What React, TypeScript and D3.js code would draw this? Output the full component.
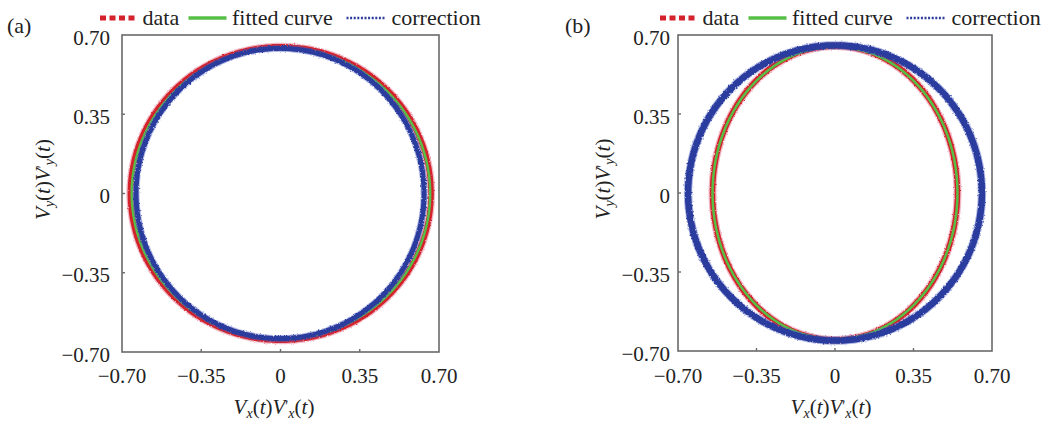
import React from 'react';
import * as d3 from 'd3';

// ---------- data ----------
const panelLabels = ['(a)', '(b)'];
const axisDomain = [-0.7, 0.7];
const tickValues = [-0.7, -0.35, 0, 0.35, 0.7];
const tickLabels = ['\u22120.70', '\u22120.35', '0', '0.35', '0.70'];
const legendLabels = ['data', 'fitted curve', 'correction'];
// ellipse parameters per panel: [cx, cy, rx, ry]
const dataEllipse = [
  [0.001, 0.0, 0.664, 0.648],
  [0.0, 0.0, 0.546, 0.651],
];
const fittedEllipse = [
  [0.002, 0.0, 0.659, 0.642],
  [0.0, 0.0, 0.546, 0.648],
];
const correctionEllipse = [
  [-0.002, 0.0, 0.636, 0.641],
  [0.0, 0.0, 0.655, 0.654],
];

// ---------- layout ----------
const W = 1053;
const H = 424;
const frames = [
  { x0: 122, x1: 439, y0: 35, y1: 352, labelGap: 12, tagX: 7, legendX: 100, yTitleX: 43, xTitleC: 274 },
  { x0: 678, x1: 992, y0: 35, y1: 351, labelGap: 8, tagX: 565, legendX: 660, yTitleX: 603, xTitleC: 831 },
];
const RED = '#d3222c';
const GREEN = '#57bf45';
const BLUE = '#2b3c9e';
const TEXT = '#222';
const FONT = "'Liberation Serif', 'DejaVu Serif', 'Times New Roman', serif";

const angles = d3.range(0, 360, 1).map((d) => (d * Math.PI) / 180);

function ellipsePath(e: number[], xs: any, ys: any) {
  const line = d3
    .line<number>()
    .x((a) => xs(e[0] + e[2] * Math.cos(a)))
    .y((a) => ys(e[1] + e[3] * Math.sin(a)))
    .curve(d3.curveLinearClosed);
  return line(angles) || '';
}

function Title({ sub }: { sub: string }) {
  return (
    <>
      <tspan fontStyle="italic">V</tspan>
      <tspan fontStyle="italic" fontSize={14} dy={4}>{sub}</tspan>
      <tspan dy={-4}>(</tspan>
      <tspan fontStyle="italic">t</tspan>
      <tspan>)</tspan>
      <tspan fontStyle="italic">V</tspan>
      <tspan fontSize={14} dy={-3}>{'\u2032'}</tspan>
      <tspan fontStyle="italic" fontSize={14} dy={7}>{sub}</tspan>
      <tspan dy={-4}>(</tspan>
      <tspan fontStyle="italic">t</tspan>
      <tspan>)</tspan>
    </>
  );
}

function Panel({ i }: { i: number }) {
  const f = frames[i];
  const xs = d3.scaleLinear().domain(axisDomain).range([f.x0, f.x1]);
  const ys = d3.scaleLinear().domain(axisDomain).range([f.y1, f.y0]);
  const dPath = ellipsePath(dataEllipse[i], xs, ys);
  const fPath = ellipsePath(fittedEllipse[i], xs, ys);
  const cPath = ellipsePath(correctionEllipse[i], xs, ys);
  const lx = f.legendX;
  const ly = 18;
  const cy = (f.y0 + f.y1) / 2 - 14;
  return (
    <g>
      {/* curves */}
      <g filter="url(#rough)">
        <path d={dPath} fill="none" stroke="#e0607a" strokeOpacity={0.45} strokeWidth={8} />
        <path d={dPath} fill="none" stroke={RED} strokeWidth={5.5} />
      </g>
      <path d={fPath} fill="none" stroke={GREEN} strokeWidth={2.5} />
      <g filter="url(#rough2)">
        <path d={cPath} fill="none" stroke="#5060c0" strokeOpacity={0.45} strokeWidth={i === 0 ? 7 : 8.5} />
        <path d={cPath} fill="none" stroke={BLUE} strokeWidth={i === 0 ? 5 : 6.5} />
      </g>
      {/* frame */}
      <rect x={f.x0} y={f.y0} width={f.x1 - f.x0} height={f.y1 - f.y0} fill="none" stroke="#6a6a6a" strokeWidth={1.6} />
      {/* ticks */}
      {tickValues.slice(1, -1).map((t) => (
        <line key={'xt' + t} x1={xs(t)} x2={xs(t)} y1={f.y1} y2={f.y1 - 3} stroke="#6a6a6a" strokeWidth={1.4} />
      ))}
      {tickValues.slice(1, -1).map((t) => (
        <line key={'yt' + t} x1={f.x0} x2={f.x0 + 3} y1={ys(t)} y2={ys(t)} stroke="#6a6a6a" strokeWidth={1.4} />
      ))}
      {/* tick labels */}
      {tickValues.map((t, k) => (
        <text key={'xl' + t} x={xs(t)} y={383} textAnchor="middle" fontSize={21} fontFamily={FONT} fill={TEXT}>
          {tickLabels[k]}
        </text>
      ))}
      {tickValues.map((t, k) => (
        <text key={'yl' + t} x={f.x0 - f.labelGap} y={ys(t) + 9.5} textAnchor="end" fontSize={21} fontFamily={FONT} fill={TEXT}>
          {tickLabels[k]}
        </text>
      ))}
      {/* axis titles */}
      <text x={f.xTitleC} y={414} textAnchor="middle" fontSize={21} fontFamily={FONT} fill={TEXT}>
        <Title sub="x" />
      </text>
      <text
        transform={`translate(${f.yTitleX + 7},${cy}) rotate(-90)`}
        textAnchor="middle"
        fontSize={21}
        fontFamily={FONT}
        fill={TEXT}
      >
        <Title sub="y" />
      </text>
      {/* panel tag */}
      <text x={f.tagX} y={33} fontSize={22} fontFamily={FONT} fill={TEXT}>
        {panelLabels[i]}
      </text>
      {/* legend */}
      <line x1={lx} x2={lx + 35} y1={ly} y2={ly} stroke={RED} strokeWidth={5} strokeDasharray="6 3.5" />
      <text x={lx + 42.5} y={25} fontSize={22} fontFamily={FONT} fill={TEXT}>{legendLabels[0]}</text>
      <line x1={lx + 88.5} x2={lx + 126.5} y1={ly} y2={ly} stroke={GREEN} strokeWidth={3.5} />
      <text x={lx + 132} y={25} fontSize={22} fontFamily={FONT} fill={TEXT}>{legendLabels[1]}</text>
      <line x1={lx + 246.5} x2={lx + 285} y1={ly} y2={ly} stroke={BLUE} strokeWidth={2.5} strokeDasharray="2 1.6" />
      <text x={lx + 291.5} y={25} fontSize={22} fontFamily={FONT} fill={TEXT}>{legendLabels[2]}</text>
    </g>
  );
}

export default function App() {
  return (
    <svg
      width={W}
      height={H}
      viewBox={`0 0 ${W} ${H}`}
      style={{ position: 'absolute', left: 0, top: 0, background: '#fff' }}
    >
      <defs>
        <filter id="rough" x="-5%" y="-5%" width="110%" height="110%">
          <feTurbulence type="fractalNoise" baseFrequency="0.7" numOctaves={1} seed={3} result="n" />
          <feDisplacementMap in="SourceGraphic" in2="n" scale={2.5} xChannelSelector="R" yChannelSelector="G" />
        </filter>
        <filter id="rough2" x="-5%" y="-5%" width="110%" height="110%">
          <feTurbulence type="fractalNoise" baseFrequency="0.6" numOctaves={1} seed={7} result="n" />
          <feDisplacementMap in="SourceGraphic" in2="n" scale={3} xChannelSelector="R" yChannelSelector="G" />
        </filter>
      </defs>
      <rect x={0} y={0} width={W} height={H} fill="#fff" />
      {frames.map((_, i) => (
        <Panel key={i} i={i} />
      ))}
    </svg>
  );
}
